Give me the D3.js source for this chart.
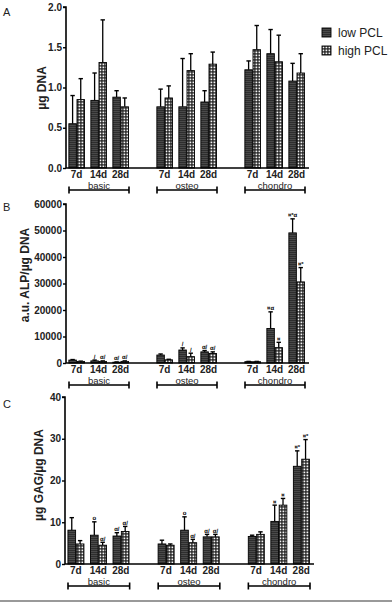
<!DOCTYPE html>
<html><head><meta charset="utf-8">
<script src="https://cdn.jsdelivr.net/npm/d3@7/dist/d3.min.js"></script>
<style>
html,body{margin:0;padding:0;background:#fff;}
svg{display:block;font-family:"Liberation Sans",Arial,sans-serif;}
</style></head>
<body>
<svg id="chart" width="392" height="606"></svg>
<script>
// ---- data ----
const conditions = ["basic", "osteo", "chondro"];
const timepoints = ["7d", "14d", "28d"];
const seriesNames = ["low PCL", "high PCL"];

// Panel A: µg DNA (order: basic 7/14/28, osteo 7/14/28, chondro 7/14/28)
const dnaLow      = [0.55, 0.84, 0.88, 0.76, 0.76, 0.82, 1.22, 1.42, 1.08];
const dnaLowErr   = [0.35, 0.34, 0.08, 0.22, 0.60, 0.14, 0.11, 0.30, 0.22];
const dnaHigh     = [0.85, 1.31, 0.76, 0.87, 1.21, 1.29, 1.47, 1.32, 1.18];
const dnaHighErr  = [0.26, 0.53, 0.11, 0.15, 0.21, 0.15, 0.30, 0.33, 0.24];
const dnaTicks    = [0, 0.5, 1.0, 1.5, 2.0];

// Panel B: a.u. ALP/µg DNA
const alpLow      = [1100, 800, 300, 3000, 4900, 4200, 500, 13000, 49100];
const alpLowErr   = [200, 300, 100, 400, 800, 500, 100, 6300, 5300];
const alpHigh     = [600, 600, 600, 1200, 2400, 3600, 500, 5800, 30600];
const alpHighErr  = [100, 200, 200, 200, 1300, 600, 100, 2000, 5400];
const alpLowMarks = ["", "/", "α/", "", "/", "α/", "", "¤α", "¤*α"];
const alpHighMarks= ["", "α/", "α/", "", "/", "α/", "", "¤", "¤*"];
const alpTicks    = [0, 10000, 20000, 30000, 40000, 50000, 60000];

// Panel C: µg GAG/µg DNA
const gagLow      = [8.1, 6.9, 6.7, 4.8, 8.1, 6.5, 6.6, 10.2, 23.4];
const gagLowErr   = [3.0, 3.2, 0.8, 0.9, 3.2, 0.6, 0.3, 3.9, 3.7];
const gagHigh     = [4.8, 4.5, 7.8, 4.5, 5.1, 6.5, 7.1, 14.1, 25.1];
const gagHighErr  = [0.8, 0.7, 1.2, 0.3, 0.8, 0.6, 0.6, 1.6, 4.7];
const gagLowMarks = ["", "o", "α/", "", "o", "α/", "", "¤", "¤*"];
const gagHighMarks= ["", "α/", "α/", "", "α/", "α/", "", "¤", "¤*"];
const gagTicks    = [0, 10, 20, 30, 40];

// ---- drawing ----
const svg = d3.select("#chart");
const defs = svg.append("defs");

// low PCL: dark with fine horizontal lines
const pLow = defs.append("pattern").attr("id", "pLow").attr("patternUnits", "userSpaceOnUse")
  .attr("width", 4).attr("height", 2);
pLow.append("rect").attr("width", 4).attr("height", 2).attr("fill", "#2e2e2e");
pLow.append("rect").attr("y", 1).attr("width", 4).attr("height", 1).attr("fill", "#4a4a4a");

// high PCL: checkered
const pHigh = defs.append("pattern").attr("id", "pHigh").attr("patternUnits", "userSpaceOnUse")
  .attr("width", 3).attr("height", 3);
pHigh.append("rect").attr("width", 3).attr("height", 3).attr("fill", "#1a1a1a");
pHigh.append("rect").attr("x", 0.5).attr("y", 0.5).attr("width", 1.8).attr("height", 1.8).attr("fill", "#f4f4f4");

const fills = {"low PCL": "url(#pLow)", "high PCL": "url(#pHigh)"};

function panel(cfg) {
  const g = svg.append("g");
  const y = d3.scaleLinear().domain([0, cfg.ymax]).range([cfg.y0, cfg.y1]);
  const xCond = d3.scaleBand().domain(conditions).range([cfg.x0, cfg.x1])
    .paddingInner(0.25).paddingOuter(0);
  const xTime = d3.scaleBand().domain(timepoints).range([0, xCond.bandwidth()]);
  const xSer = d3.scaleBand().domain(seriesNames)
    .range([xTime.bandwidth() * 0.13, xTime.bandwidth() * 0.84]).paddingInner(0.08);

  const rows = [];
  conditions.forEach((c, ci) => timepoints.forEach((t, ti) => {
    const i = ci * 3 + ti;
    rows.push({c, t, s: "low PCL", v: cfg.low[i], e: cfg.lowErr[i], m: cfg.lowMarks ? cfg.lowMarks[i] : ""});
    rows.push({c, t, s: "high PCL", v: cfg.high[i], e: cfg.highErr[i], m: cfg.highMarks ? cfg.highMarks[i] : ""});
  }));
  const bx = d => xCond(d.c) + xTime(d.t) + xSer(d.s);
  const bw = xSer.bandwidth();

  // error bars
  g.selectAll(".err").data(rows).join("g").each(function(d) {
    const cx = bx(d) + bw / 2;
    const sel = d3.select(this);
    sel.append("line").attr("x1", cx).attr("x2", cx).attr("y1", y(d.v)).attr("y2", y(d.v + d.e))
      .attr("stroke", "#000").attr("stroke-width", 1.3);
    sel.append("line").attr("x1", cx - 2.2).attr("x2", cx + 2.2).attr("y1", y(d.v + d.e)).attr("y2", y(d.v + d.e))
      .attr("stroke", "#000").attr("stroke-width", 1.4);
    if (d.m) {
      sel.append("text").attr("x", cx).attr("y", y(d.v + d.e) - 1.5).attr("text-anchor", "middle")
        .attr("font-size", 6).attr("font-weight", "bold").attr("fill", "#000")
        .style("text-rendering", "geometricPrecision").text(d.m);
    }
  });
  // bars
  g.selectAll(".bar").data(rows).join("rect")
    .attr("x", bx).attr("width", bw)
    .attr("y", d => y(d.v)).attr("height", d => Math.max(0.8, cfg.y0 - y(d.v)))
    .attr("fill", d => fills[d.s]).attr("stroke", "#000").attr("stroke-width", 0.9);

  // y axis
  const ya = d3.axisLeft(y).tickValues(cfg.ticks).tickSize(3).tickPadding(1).tickFormat(cfg.fmt);
  const yg = g.append("g").attr("transform", `translate(${cfg.x0},0)`).call(ya);
  yg.select(".domain").attr("stroke-width", 1.6).attr("d", `M-3,${cfg.y1}H0V${cfg.y0}`);
  yg.selectAll(".tick line").attr("stroke-width", 1.4);
  yg.selectAll("text").attr("font-size", 10).attr("font-weight", "bold")
    .attr("font-family", "'Liberation Sans',Arial,sans-serif").attr("fill", "#222");

  // x axis line
  g.append("line").attr("x1", cfg.x0).attr("x2", cfg.x1 + 1).attr("y1", cfg.y0).attr("y2", cfg.y0)
    .attr("stroke", "#000").attr("stroke-width", 1.6);

  // time labels
  conditions.forEach(c => timepoints.forEach(t => {
    g.append("text").attr("x", xCond(c) + xTime(t) + xTime.bandwidth() / 2 - 0.5)
      .attr("y", cfg.y0 + cfg.tOff).attr("text-anchor", "middle")
      .attr("font-size", 10).attr("font-weight", "bold").attr("fill", "#222").text(t);
  }));
  // brackets
  conditions.forEach(c => {
    const a = xCond(c) + 3, b = xCond(c) + xCond.bandwidth() - 3, yb = cfg.y0 + cfg.bOff;
    g.append("path").attr("d", `M${a},${yb - 3.5}V${yb + 3.5}M${a},${yb}H${b}M${b},${yb - 3.5}V${yb + 3.5}`)
      .attr("stroke", "#000").attr("stroke-width", 1.6).attr("fill", "none");
    g.append("text").attr("x", (a + b) / 2).attr("y", yb - 1).attr("text-anchor", "middle")
      .attr("font-size", 9.5).attr("fill", "#222").text(c);
  });
  // y title
  g.append("text").attr("transform", `translate(${cfg.tx},${cfg.ty}) rotate(-90)`)
    .attr("text-anchor", "middle").attr("font-size", 12).attr("font-weight", "bold").attr("fill", "#222")
    .text(cfg.title);
  // panel letter
  g.append("text").attr("x", 3).attr("y", cfg.ly).attr("font-size", 11).attr("fill", "#222").text(cfg.letter);
}

panel({letter: "A", ly: 16, ymax: 2.0, y0: 168, y1: 7, x0: 66, x1: 308, tOff: 10, bOff: 22,
  low: dnaLow, lowErr: dnaLowErr, high: dnaHigh, highErr: dnaHighErr, ticks: dnaTicks,
  fmt: d3.format(".1f"), title: "µg DNA", tx: 46, ty: 88});
panel({letter: "B", ly: 211, ymax: 60000, y0: 363, y1: 204, x0: 66, x1: 308, tOff: 10, bOff: 22,
  low: alpLow, lowErr: alpLowErr, high: alpHigh, highErr: alpHighErr,
  lowMarks: alpLowMarks, highMarks: alpHighMarks, ticks: alpTicks,
  fmt: d3.format("d"), title: "a.u. ALP/µg DNA", tx: 29, ty: 275});
panel({letter: "C", ly: 408, ymax: 40, y0: 564, y1: 397, x0: 65, x1: 313, tOff: 10, bOff: 22,
  low: gagLow, lowErr: gagLowErr, high: gagHigh, highErr: gagHighErr,
  lowMarks: gagLowMarks, highMarks: gagHighMarks, ticks: gagTicks,
  fmt: d3.format("d"), title: "µg GAG/µg DNA", tx: 43, ty: 475});

// legend
const lg = svg.append("g").attr("transform", "translate(322,28)");
seriesNames.forEach((s, i) => {
  lg.append("rect").attr("x", 0).attr("y", i * 18).attr("width", 9).attr("height", 9)
    .attr("fill", fills[s]).attr("stroke", "#000").attr("stroke-width", 0.9);
  lg.append("text").attr("x", 16).attr("y", i * 18 + 9).attr("font-size", 12).attr("fill", "#222").text(s);
});

// bottom rule
svg.append("line").attr("x1", 0).attr("x2", 392).attr("y1", 601).attr("y2", 601)
  .attr("stroke", "#999").attr("stroke-width", 2);
</script>
</body></html>
